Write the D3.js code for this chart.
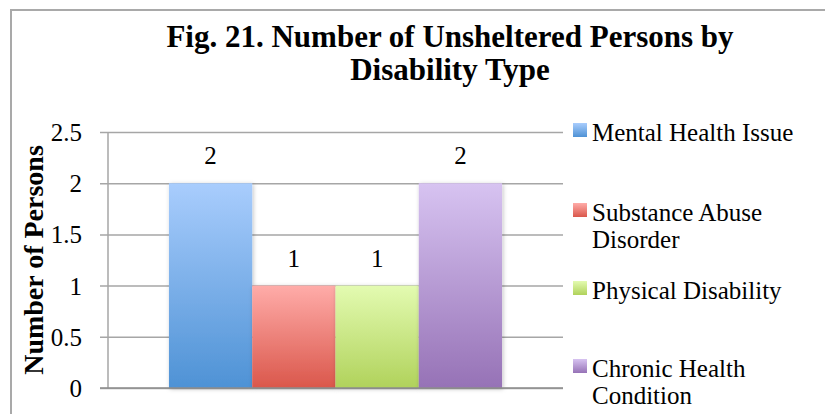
<!DOCTYPE html>
<meta charset="utf-8">
<style>
body { margin:0; background:#fff; font-family:"Liberation Serif", "DejaVu Serif", serif; }
.grid line { stroke:#a6a6a6; stroke-width:1.5px; }
.grid text { font-size:25px; fill:#000; }
.title { font-size:31px; font-weight:bold; text-anchor:middle; }
.ylabel { font-size:28px; font-weight:bold; text-anchor:middle; }
.vlabel { font-size:25px; text-anchor:middle; }
.legend text { font-size:25px; }
</style>
<svg width="825" height="414"></svg>
<script src="https://cdn.jsdelivr.net/npm/d3@7/dist/d3.min.js"></script>
<script>

var categories = ["Disability"];
var series = ["Mental Health Issue", "Substance Abuse Disorder", "Physical Disability", "Chronic Health Condition"];
var legendLines = [["Mental Health Issue"], ["Substance Abuse", "Disorder"], ["Physical Disability"], ["Chronic Health", "Condition"]];
var values = [2, 1, 1, 2];
var yTicks = [0, 0.5, 1, 1.5, 2, 2.5];
var colTop = ["#a9cdfd", "#ffaca9", "#e3fbb1", "#d7c3f1"];
var colBottom = ["#4e92d5", "#da574b", "#b0d25b", "#9672b6"];

var svg = d3.select("svg");
var plotLeft = 108, plotRight = 563, plotTop = 132, plotBottom = 388;

// frame
svg.append("rect").attr("x", 11).attr("y", 10).attr("width", 830).attr("height", 420)
    .attr("fill", "none").attr("stroke", "#a9a9a9").attr("stroke-width", 2);

var defs = svg.append("defs");
series.forEach(function(s, i) {
  var g = defs.append("linearGradient").attr("id", "grad" + i)
      .attr("x1", 0).attr("y1", 0).attr("x2", 0).attr("y2", 1);
  g.append("stop").attr("offset", "0%").attr("stop-color", colTop[i]);
  g.append("stop").attr("offset", "100%").attr("stop-color", colBottom[i]);
});
var f = defs.append("filter").attr("id", "shadow").attr("x", "-10%").attr("y", "-10%").attr("width", "130%").attr("height", "130%");
f.append("feDropShadow").attr("dx", 1).attr("dy", 1).attr("stdDeviation", 2).attr("flood-color", "#000").attr("flood-opacity", 0.25);

var y = d3.scaleLinear().domain([0, 2.5]).range([plotBottom, plotTop]);
var x0 = d3.scaleBand().domain(categories).range([plotLeft, plotRight]).paddingInner(0).paddingOuter(0.183);
var x1 = d3.scaleBand().domain(series).range([0, x0.bandwidth()]).padding(0);

// grid + y axis
var ax = svg.append("g").attr("class", "grid").attr("transform", "translate(" + plotLeft + ",0)")
    .call(d3.axisLeft(y).tickValues(yTicks).tickSizeInner(-(plotRight - plotLeft)).tickSizeOuter(0).tickPadding(26)
      .tickFormat(function(d) { return d3.format("")(d); }));
ax.attr("font-family", null).attr("font-size", null);
ax.select(".domain").remove();
ax.selectAll(".tick line").attr("x1", -8);
ax.selectAll(".tick text").attr("dy", "0.34em");
ax.append("line").attr("x1", 0).attr("x2", 0).attr("y1", plotTop).attr("y2", plotBottom)
    .attr("stroke", "#a6a6a6").attr("stroke-width", 1.5);

// bars
var grp = svg.append("g").attr("transform", "translate(" + x0(categories[0]) + ",0)");
grp.selectAll("rect").data(values).enter().append("rect")
    .attr("x", function(d, i) { return x1(series[i]); })
    .attr("y", function(d) { return y(d); })
    .attr("width", x1.bandwidth())
    .attr("height", function(d) { return y(0) - y(d); })
    .attr("fill", function(d, i) { return "url(#grad" + i + ")"; })
    .attr("filter", "url(#shadow)");

grp.selectAll(".vlabel").data(values).enter().append("text")
    .attr("class", "vlabel")
    .attr("x", function(d, i) { return x1(series[i]) + x1.bandwidth() / 2; })
    .attr("y", function(d) { return y(d) - 19; })
    .text(function(d) { return d; });

// bottom axis line
svg.append("line").attr("x1", plotLeft - 8).attr("x2", plotRight).attr("y1", plotBottom).attr("y2", plotBottom)
    .attr("stroke", "#8c8c8c").attr("stroke-width", 1.5);

// title
var title = svg.append("text").attr("class", "title").attr("x", 450).attr("y", 47);
title.append("tspan").attr("x", 450).text("Fig. 21. Number of Unsheltered Persons by");
title.append("tspan").attr("x", 450).attr("dy", 33).text("Disability Type");

// y axis title
svg.append("text").attr("class", "ylabel")
    .attr("transform", "translate(43,260) rotate(-90)")
    .text("Number of Persons");

// legend
var legY = [130, 210, 288, 366];
var leg = svg.append("g").attr("class", "legend").selectAll("g").data(series).enter().append("g")
    .attr("transform", function(d, i) { return "translate(573," + legY[i] + ")"; });
leg.append("rect").attr("x", 0).attr("y", -7).attr("width", 14).attr("height", 14)
    .attr("fill", function(d, i) { return "url(#grad" + i + ")"; });
leg.append("text").attr("x", 19).attr("y", 11)
  .each(function(d, i) {
    var t = d3.select(this);
    legendLines[i].forEach(function(l, j) {
      t.append("tspan").attr("x", 19).attr("dy", j ? 27 : 0).text(l);
    });
  });

</script>
